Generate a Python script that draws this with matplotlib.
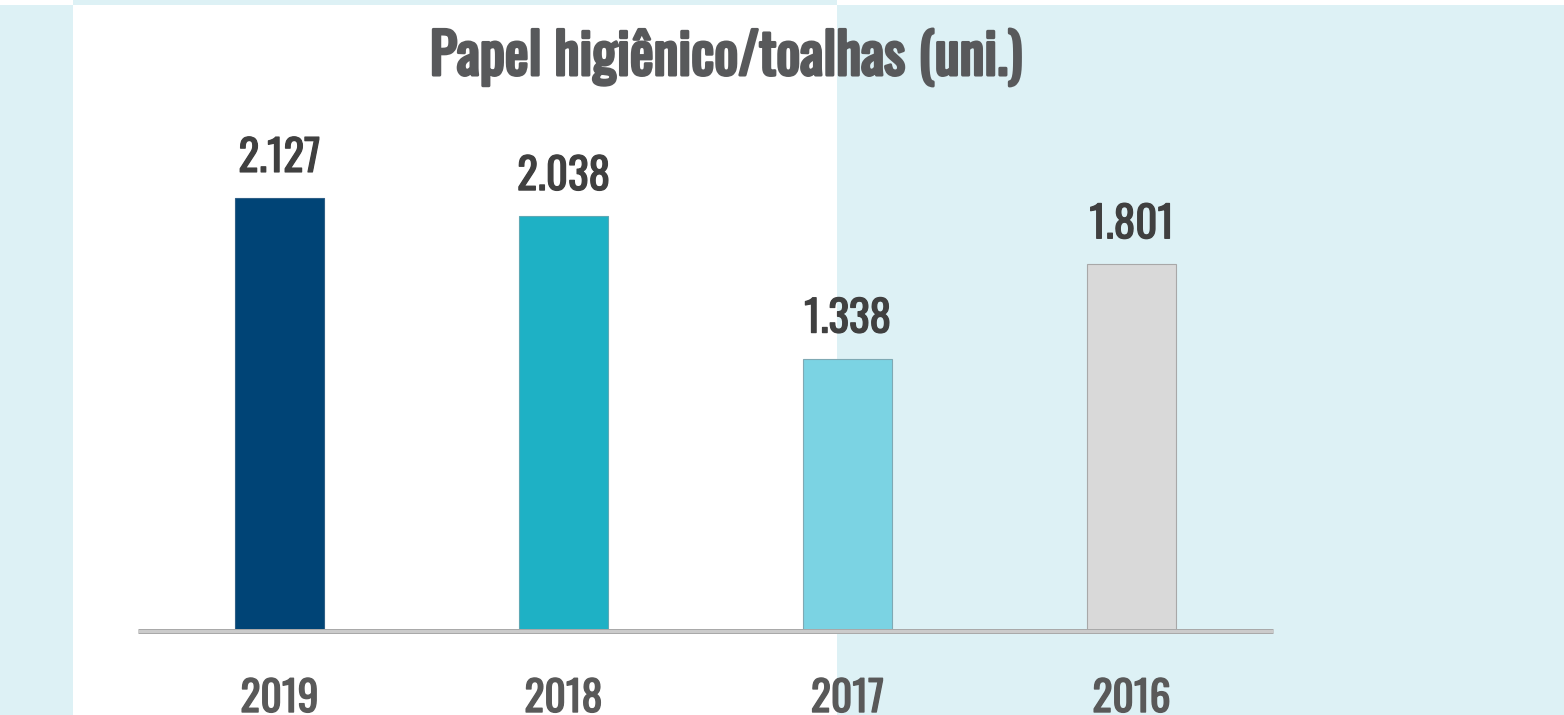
import matplotlib
matplotlib.use("Agg")
import matplotlib.pyplot as plt
import matplotlib.patheffects as pe
from matplotlib.patches import Rectangle

# ---- data ----
years = ["2019", "2018", "2017", "2016"]
values = [2127, 2038, 1338, 1801]
value_labels = ["2.127", "2.038", "1.338", "1.801"]
title = "Papel higiênico/toalhas (uni.)"

bar_colors = ["#004476", "#1EB1C5", "#7BD3E3", "#D9D9D9"]
edge_colors = ["#2F5F86", "#5FA9B5", "#7FA9B4", "#A8A8A8"]
FONT = ["Oswald", "DejaVu Sans"]

W, H = 1564, 715
fig = plt.figure(figsize=(W / 100, H / 100), dpi=100)
fig.patch.set_facecolor("#DDF1F5")

def px_rect(x0, y0, x1, y1, color):
    fig.patches.append(Rectangle((x0 / W, 1 - y1 / H), (x1 - x0) / W, (y1 - y0) / H,
                                 transform=fig.transFigure, facecolor=color,
                                 edgecolor="none", zorder=-5))

# white panel and top strips
px_rect(73, 5, 837, H, "white")
px_rect(0, 0, 73, 5, "white")
px_rect(837, 0, W, 5, "white")

# axes: baseline at y=631 px, scale 0.2036 px per unit
base_px = 631
top_px = 100
ymax = (base_px - top_px) / 0.2036
ax = fig.add_axes([137.5 / W, (H - base_px) / H, (1273.5 - 137.5) / W, (base_px - top_px) / H])
ax.set_zorder(2)
ax.patch.set_visible(False)
ax.set_xlim(-0.5, 3.5)
ax.set_ylim(0, ymax)
for s in ax.spines.values():
    s.set_visible(False)
ax.set_xticks([])
ax.set_yticks([])

x = list(range(len(years)))
ax.bar(x, values, width=0.313, color=bar_colors, edgecolor=edge_colors, linewidth=0.8, zorder=2)

# baseline
ax.axhline(0, color="#A9A9A9", lw=3.6, zorder=3, solid_capstyle="butt", clip_on=False)
ax.axhline(0, color="#CBCBCB", lw=2.2, zorder=4, solid_capstyle="butt", clip_on=False)

for xi, v, lab in zip(x, values, value_labels):
    ax.annotate(lab, xy=(xi, v), xytext=(0, 26 * 0.72), textcoords="offset points",
                ha="center", va="baseline", fontsize=31, color="#404040",
                family=FONT, fontweight="bold",
                path_effects=[pe.withStroke(linewidth=0.9, foreground="#404040")])

for xi, yr in zip(x, years):
    ax.annotate(yr, xy=(xi, 0), xytext=(0, -81 * 0.72), textcoords="offset points",
                ha="center", va="baseline", fontsize=30, color="#595959",
                family=FONT, fontweight="bold", annotation_clip=False,
                path_effects=[pe.withStroke(linewidth=1.0, foreground="#595959")])

fig.text(726 / W, 1 - 75 / H, title, ha="center", va="baseline", fontsize=40.5,
         color="#58595B", family=FONT, fontweight="bold",
         path_effects=[pe.withStroke(linewidth=2.2, foreground="#58595B")])

fig.savefig("out.png", dpi=100, facecolor=fig.get_facecolor())
